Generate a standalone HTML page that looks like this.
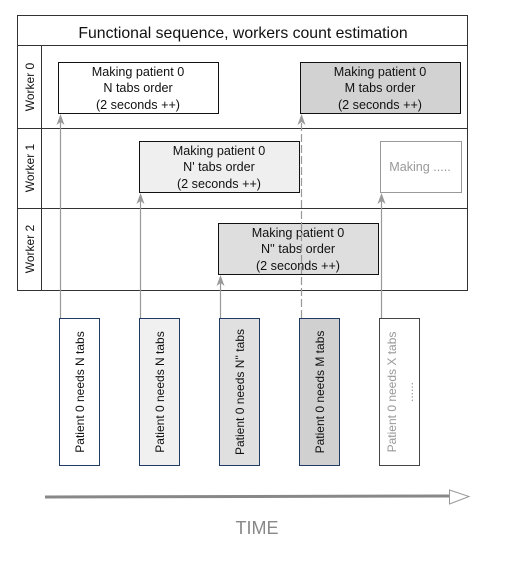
<!DOCTYPE html>
<html><head><style>
body{margin:0;background:#fff;}
</style></head><body>
<svg width="514" height="558" xmlns="http://www.w3.org/2000/svg" font-family="'Liberation Sans', 'DejaVu Sans', sans-serif">
<rect width="514" height="558" fill="#fff"/>
<g fill="none" stroke="#333" stroke-width="1">
<rect x="17.5" y="15.5" width="450" height="275"/>
<line x1="17" y1="45.5" x2="468" y2="45.5"/>
<line x1="17" y1="128.5" x2="468" y2="128.5"/>
<line x1="17" y1="208.5" x2="468" y2="208.5"/>
<line x1="41.5" y1="45" x2="41.5" y2="290"/>
</g>
<text x="243" y="38" font-size="15.8" text-anchor="middle" fill="#111">Functional sequence, workers count estimation</text>
<g font-size="12" fill="#111" text-anchor="middle">
<text transform="translate(34,87) rotate(-90)">Worker 0</text>
<text transform="translate(34,168) rotate(-90)">Worker 1</text>
<text transform="translate(34,249) rotate(-90)">Worker 2</text>
</g>
<g stroke="#111" stroke-width="1">
<rect x="58.5" y="62.5" width="160" height="51" fill="#fff"/>
<rect x="300.5" y="62.5" width="160" height="51" fill="#d2d2d2"/>
<rect x="139.5" y="141.5" width="160" height="51" fill="#efefef"/>
<rect x="218.5" y="223.5" width="160" height="51" fill="#dedede"/>
</g>
<rect x="380.5" y="141.5" width="81" height="51" fill="#fff" stroke="#999"/>
<g font-size="12.6" fill="#111" text-anchor="middle">
<text x="138" y="76">Making patient 0</text><text x="138" y="92">N tabs order</text><text x="138" y="109">(2 seconds ++)</text>
<text x="380" y="76">Making patient 0</text><text x="380" y="92">M tabs order</text><text x="380" y="109">(2 seconds ++)</text>
<text x="219" y="155">Making patient 0</text><text x="219" y="171">N' tabs order</text><text x="219" y="188">(2 seconds ++)</text>
<text x="298" y="237">Making patient 0</text><text x="298" y="253">N'' tabs order</text><text x="298" y="270">(2 seconds ++)</text>
<text x="420" y="171" fill="#999">Making .....</text>
</g>
<g stroke="#999" stroke-width="1.2" fill="none">
<line x1="60.5" y1="318" x2="60.5" y2="116"/>
<line x1="140.5" y1="318" x2="140.5" y2="195"/>
<line x1="220.5" y1="318" x2="220.5" y2="277"/>
<line x1="301.5" y1="318" x2="301.5" y2="116" stroke-dasharray="8,3"/>
<line x1="381.5" y1="318" x2="381.5" y2="195"/>
</g>
<g fill="#999">
<path d="M60.5 114 l-4 11 l4 -3 l4 3z"/>
<path d="M140.5 193 l-4 11 l4 -3 l4 3z"/>
<path d="M220.5 275 l-4 11 l4 -3 l4 3z"/>
<path d="M301.5 114 l-4 11 l4 -3 l4 3z"/>
<path d="M381.5 193 l-4 11 l4 -3 l4 3z"/>
</g>
<g stroke="#1f3b63" stroke-width="1">
<rect x="59.5" y="318.5" width="40" height="147" fill="#fff"/>
<rect x="139.5" y="318.5" width="40" height="147" fill="#f0f0f0"/>
<rect x="219.5" y="318.5" width="40" height="147" fill="#e0e0e0"/>
<rect x="299.5" y="318.5" width="40" height="147" fill="#d0d0d0"/>
</g>
<rect x="379.5" y="318.5" width="40" height="147" fill="#fff" stroke="#444"/>
<g font-size="12" fill="#111" text-anchor="middle">
<text transform="translate(84,392) rotate(-90)">Patient 0 needs N tabs</text>
<text transform="translate(164,392) rotate(-90)">Patient 0 needs N tabs</text>
<text transform="translate(244,392) rotate(-90)">Patient 0 needs N'' tabs</text>
<text transform="translate(324,392) rotate(-90)">Patient 0 needs M tabs</text>
<text transform="translate(396,392) rotate(-90)" fill="#999">Patient 0 needs X tabs</text>
<text transform="translate(413,392) rotate(-90)" fill="#999">......</text>
</g>
<line x1="45" y1="497" x2="450" y2="496" stroke="#888" stroke-width="3"/>
<path d="M449.5 490 L469 496.5 L449.5 504 Z" fill="#fff" stroke="#999" stroke-width="1"/>
<text x="257" y="534" font-size="18" fill="#888" text-anchor="middle">TIME</text>
</svg>
</body></html>
